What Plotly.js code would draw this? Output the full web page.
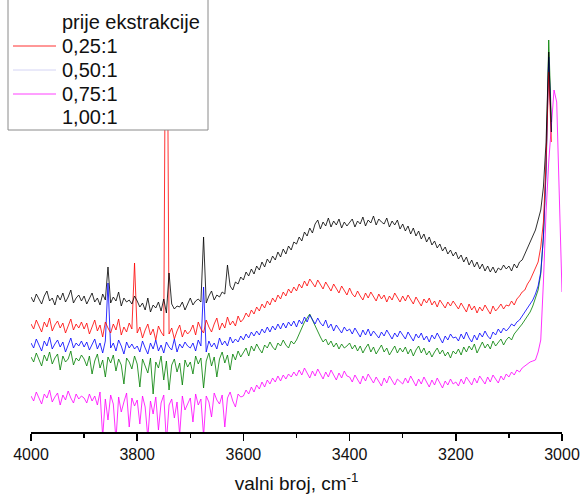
<!DOCTYPE html>
<html>
<head>
<meta charset="utf-8">
<script src="https://cdn.plot.ly/plotly-3.0.1.min.js"></script>
<style>html,body{margin:0;padding:0;background:#fff}#chart{width:580px;height:499px}</style>
</head>
<body>
<div id="chart"></div>
<script>
// wavenumber grid, cm^-1 (4000 -> 3000, step 5)
const wavenumber = [
4000,3995,3990,3985,3980,3975,3970,3965,3960,3955,3950,3945,3940,3935,3930,3925,3920,3915,3910,3905,
3900,3895,3890,3885,3880,3875,3870,3865,3860,3855,3850,3845,3840,3835,3830,3825,3820,3815,3810,3805,
3800,3795,3790,3785,3780,3775,3770,3765,3760,3755,3750,3745,3740,3735,3730,3725,3720,3715,3710,3705,
3700,3695,3690,3685,3680,3675,3670,3665,3660,3655,3650,3645,3640,3635,3630,3625,3620,3615,3610,3605,
3600,3595,3590,3585,3580,3575,3570,3565,3560,3555,3550,3545,3540,3535,3530,3525,3520,3515,3510,3505,
3500,3495,3490,3485,3480,3475,3470,3465,3460,3455,3450,3445,3440,3435,3430,3425,3420,3415,3410,3405,
3400,3395,3390,3385,3380,3375,3370,3365,3360,3355,3350,3345,3340,3335,3330,3325,3320,3315,3310,3305,
3300,3295,3290,3285,3280,3275,3270,3265,3260,3255,3250,3245,3240,3235,3230,3225,3220,3215,3210,3205,
3200,3195,3190,3185,3180,3175,3170,3165,3160,3155,3150,3145,3140,3135,3130,3125,3120,3115,3110,3105,
3100,3095,3090,3085,3080,3075,3070,3065,3060,3055,3050,3045,3040,3035,3030,3025,3020,3015,3010,3005,
3000];

// signal (arbitrary units)
const prijeEkstrakcije = [
135,130,138,133,128,136,141,131,134,127,137,132,139,130,135,142,129,134,137,131,
136,128,133,139,130,134,127,138,132,165,129,135,131,140,126,134,130,132,128,136,
131,125,129,122,134,120,127,124,130,121,133,119,159,128,123,126,125,130,122,129,
134,127,131,133,130,195,129,136,141,132,137,135,140,138,167,146,142,150,148,155,
152,160,156,163,158,166,162,170,165,173,169,176,172,180,175,183,178,186,182,190,
188,195,191,200,196,204,199,208,212,203,210,206,214,205,211,207,213,204,210,206,
209,213,205,211,208,215,206,212,209,216,207,213,210,208,214,205,211,207,212,203,
208,201,206,198,204,196,201,193,198,190,195,187,191,184,188,181,185,178,182,176,
180,173,177,170,175,167,172,165,170,163,168,161,166,160,165,159,164,162,167,163,
166,161,168,164,170,172,178,184,189,195,202,212,222,245,290,380,300,null,null,null,
null];

const omjer025 = [
108,103,112,106,100,110,105,114,101,107,111,104,109,99,106,113,102,108,104,110,
103,109,98,106,112,101,107,95,110,104,99,108,102,113,97,105,100,109,103,169,
99,105,94,102,108,97,103,92,106,100,96,600,98,104,93,101,107,95,102,98,
101,107,97,110,103,99,112,105,100,108,114,102,109,104,115,107,111,106,116,110,
113,119,115,122,118,125,121,128,124,131,127,134,130,137,133,140,136,143,139,145,
141,148,144,151,146,153,149,145,152,147,143,150,146,141,148,144,139,146,142,137,
144,138,135,141,136,132,139,134,140,135,131,138,133,137,130,136,132,139,134,130,
136,131,137,132,128,135,130,126,133,129,134,127,131,125,132,128,124,130,126,131,
127,123,129,124,120,128,122,126,119,125,121,127,122,118,126,121,124,128,123,127,
126,131,127,133,136,140,142,148,152,158,165,170,185,210,270,360,290,null,null,null,
null];

const omjer050 = [
89,84,93,87,81,91,86,95,83,88,92,85,90,80,87,94,84,89,86,91,
85,90,82,88,93,83,89,79,91,149,84,89,81,92,86,78,90,84,88,83,
86,80,91,84,78,89,83,92,81,87,79,90,85,82,93,80,88,84,90,86,
84,89,81,92,86,145,80,91,85,89,83,94,87,91,86,95,89,93,90,96,
92,98,94,100,96,101,97,103,99,105,100,106,102,108,103,109,104,110,106,111,
105,112,108,115,110,117,112,108,114,109,106,112,104,108,101,107,103,99,105,101,
103,98,104,99,95,102,97,103,96,101,98,94,100,96,102,97,93,99,95,101,
97,93,100,95,91,98,94,99,92,96,90,97,93,99,94,89,96,92,98,94,
95,91,98,93,100,94,90,97,92,99,95,101,96,93,100,97,103,99,104,101,
104,108,106,110,112,116,119,123,127,132,138,146,160,195,260,375,300,null,null,null,
null];

const omjer075 = [
36,31,40,33,28,38,34,42,30,35,39,27,37,32,41,34,29,38,33,36,
34,29,38,31,36,27,40,-5,33,12,37,28,-8,35,20,30,39,5,34,26,
32,8,36,25,-6,31,18,35,2,29,37,-10,27,33,14,30,-3,36,22,28,
34,10,38,27,33,-4,36,30,15,39,32,28,37,5,34,40,31,25,38,35,
36,42,38,45,40,47,43,50,45,52,48,54,50,56,51,57,53,58,55,60,
56,62,57,64,59,54,61,56,63,58,53,60,55,62,57,52,59,54,61,56,
55,50,57,52,48,56,51,58,53,49,55,50,46,54,49,56,51,47,53,50,
48,54,49,56,51,46,53,48,55,50,45,52,47,54,49,44,51,47,53,48,
50,46,53,48,55,51,47,54,49,56,52,48,55,50,57,53,49,56,52,58,
55,60,57,62,60,64,66,68,70,71,72,80,92,150,220,270,310,342,330,240,
140];

const omjer100 = [
75,70,79,72,66,77,71,80,68,74,78,62,76,70,73,81,67,74,71,77,
73,66,76,58,71,78,64,72,55,75,69,77,61,73,67,48,74,70,63,76,
68,45,73,66,59,74,38,70,64,76,52,71,42,67,73,60,69,47,72,65,
70,58,76,68,74,44,71,79,66,75,55,73,80,69,77,62,78,72,81,75,
79,84,76,86,81,88,83,79,87,84,90,85,82,89,86,92,87,84,91,88,
92,98,104,110,114,118,112,106,100,95,90,93,87,91,85,89,83,88,84,86,
89,83,87,81,86,79,84,88,80,85,78,83,87,80,84,77,82,86,79,84,
80,85,78,83,76,82,86,79,84,77,81,75,80,84,78,82,76,80,74,81,
78,83,77,85,80,86,82,88,79,85,90,84,88,83,91,86,89,93,87,92,
95,92,98,101,104,108,112,116,120,126,133,142,158,195,265,392,310,null,null,null,
null];

const seriesNames = ['prije ekstrakcije','0,25:1','0,50:1','0,75:1','1,00:1'];
const seriesValues = [prijeEkstrakcije, omjer025, omjer050, omjer075, omjer100];
const seriesColors = ['#000000','#ff0000','#0000ff','#ff00ff','#008000'];
const legendLineColors = [null,'#ff3030','#d4d4f4','#ff40ff',null];
const tickValues = [4000,3800,3600,3400,3200,3000];

const FONT = 'Liberation Sans, Arial, sans-serif';
const L = 31, R = 18, T = 0, B = 67, W = 580, H = 499;
const PW = W - L - R, PH = H - T - B;
const px = p => (p - L) / PW;
const py = p => 1 - (p - T) / PH;

// draw order: magenta, green, blue, red, black on top
const order = [3, 4, 2, 1, 0];
const traces = order.map(i => ({
  type: 'scatter', mode: 'lines', name: seriesNames[i],
  x: wavenumber, y: seriesValues[i], showlegend: false, connectgaps: false,
  line: {color: seriesColors[i], width: 0.9}, opacity: 0.9, hoverinfo: 'skip'
}));

const shapes = [{
  type: 'rect', xref: 'paper', yref: 'paper', layer: 'above',
  x0: px(8), x1: px(208), y0: py(130), y1: py(-2),
  fillcolor: '#ffffff', line: {color: '#8a8a8a', width: 1}
}];
const annotations = [];
const rowY = [22, 46, 70, 94, 117];
seriesNames.forEach((n, i) => {
  if (legendLineColors[i]) {
    shapes.push({type: 'line', xref: 'paper', yref: 'paper', layer: 'above',
      x0: px(13), x1: px(56), y0: py(rowY[i]), y1: py(rowY[i]),
      line: {color: legendLineColors[i], width: 1}});
  }
  annotations.push({xref: 'paper', yref: 'paper', x: px(60), y: py(rowY[i]),
    xanchor: 'left', yanchor: 'middle', showarrow: false, text: n,
    font: {family: FONT, size: 20, color: '#111111'}});
});

const layout = {
  width: W, height: H, margin: {l: L, r: R, t: T, b: B, pad: 0},
  paper_bgcolor: '#ffffff', plot_bgcolor: '#ffffff', showlegend: false,
  font: {family: FONT, color: '#111111'},
  xaxis: {
    range: [4000, 3000], tickvals: tickValues, ticktext: tickValues.map(String),
    showline: true, linecolor: '#000000', linewidth: 1.5, mirror: false,
    ticks: 'outside', ticklen: 7, tickwidth: 1.5, tickcolor: '#000000',
    minor: {dtick: 100, tick0: 3000, ticks: 'outside', ticklen: 4, tickwidth: 1.5, tickcolor: '#000000', showgrid: false},
    showgrid: false, zeroline: false, tickfont: {family: FONT, size: 16, color: '#111111'},
    title: {text: 'valni broj, cm<sup>-1</sup>', font: {family: FONT, size: 19, color: '#111111'}, standoff: 15}
  },
  yaxis: {range: [0, PH], visible: false, showgrid: false, zeroline: false, fixedrange: true},
  shapes: shapes, annotations: annotations
};

Plotly.newPlot('chart', traces, layout, {displayModeBar: false, staticPlot: true});
</script>
</body>
</html>
